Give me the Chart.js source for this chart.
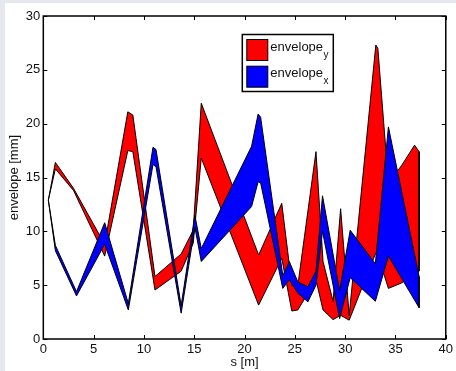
<!DOCTYPE html>
<html>
<head>
<meta charset="utf-8">
<script src="https://cdn.jsdelivr.net/npm/chart.js@4"></script>
<style>
  html, body { margin: 0; padding: 0; background: #e5e9ee; }
  #wrap { position: relative; width: 456px; height: 371px; }
  #paper { position: absolute; left: 5px; top: 3px; right: 0; bottom: 0; background: #fff; }
  #envChart { position: absolute; left: 0; top: 0; }
</style>
</head>
<body>
<div id="wrap">
  <div id="paper"></div>
  <canvas id="envChart" width="456" height="371"></canvas>
</div>
<script>
// vertical plane (red)
var sY = [0.5, 1.2, 3.0, 6.1, 8.4, 8.9, 11.1, 13.7, 14.9, 15.7, 21.4, 23.7, 24.7, 25.3, 27.1, 27.8, 28.8, 29.55, 30.4, 33.05, 33.25, 34.3, 35.6, 36.9, 37.35];
var yUpper = [12.9, 16.4, 14.0, 8.8, 21.1, 20.8, 5.8, 7.9, 10.1, 21.9, 7.8, 12.6, 5.0, 5.0, 17.4, 7.2, 3.5, 12.1, 2.2, 27.3, 27.0, 14.5, 16.1, 18.0, 17.4];
var yLower = [12.9, 15.8, 13.8, 7.7, 17.5, 17.4, 4.55, 6.3, 8.9, 16.8, 3.15, 7.5, 2.6, 2.7, 5.5, 2.7, 1.8, 2.2, 1.75, 8.0, 7.8, 4.7, 5.2, 6.0, 6.3];

// horizontal plane (blue)
var sX = [0.5, 1.2, 3.3, 6.1, 8.45, 10.9, 11.2, 13.7, 15.06, 15.7, 20.7, 21.35, 21.6, 23.8, 24.45, 25.3, 26.3, 27.1, 27.75, 29.45, 30.5, 33.0, 34.3, 37.35];
var xUpper = [12.9, 8.7, 4.4, 10.8, 3.3, 17.8, 17.6, 3.1, 11.5, 8.4, 17.9, 20.9, 20.6, 5.9, 7.2, 5.3, 4.85, 6.3, 13.3, 4.5, 10.1, 7.0, 19.7, 5.8];
var xLower = [12.9, 8.2, 4.0, 8.8, 2.7, 16.2, 16.0, 2.4, 10.4, 7.2, 12.3, 14.6, 14.5, 4.7, 5.5, 4.25, 3.45, 5.0, 10.0, 1.9, 5.7, 3.5, 7.7, 2.9];

var xTicks = [0, 5, 10, 15, 20, 25, 30, 35, 40];
var yTicks = [0, 5, 10, 15, 20, 25, 30];

var legendItems = [
    { text: "envelope", sub: "y", color: "#ff0000" },
    { text: "envelope", sub: "x", color: "#0000ff" }
];

// upper curve forward, lower curve back -> closed outline
function envelopeShape(s, upper, lower) {
    var pts = [];
    for (var i = 0; i < s.length; i++) pts.push({ x: s[i], y: upper[i] });
    for (var j = s.length - 1; j >= 0; j--) pts.push({ x: s[j], y: lower[j] });
    return pts;
}

var FONT = "'Liberation Sans', Arial, sans-serif";
Chart.defaults.font.family = FONT;
Chart.defaults.font.size = 13;
Chart.defaults.color = "#111";

var matlabAxes = {
    id: "matlabAxes",
    afterDatasetsDraw: function(chart) {
        var ctx = chart.ctx;
        var a = chart.chartArea;
        var xs = chart.scales.x, ys = chart.scales.y;
        ctx.save();
        ctx.strokeStyle = "#000";
        ctx.lineWidth = 1;
        ctx.beginPath();
        xTicks.forEach(function(t) {
            var px = Math.round(xs.getPixelForValue(t)) + 0.5;
            ctx.moveTo(px, a.bottom); ctx.lineTo(px, a.bottom - 4);
            ctx.moveTo(px, a.top); ctx.lineTo(px, a.top + 4);
        });
        yTicks.forEach(function(t) {
            var py = Math.round(ys.getPixelForValue(t)) + 0.5;
            ctx.moveTo(a.left, py); ctx.lineTo(a.left + 4, py);
            ctx.moveTo(a.right, py); ctx.lineTo(a.right - 4, py);
        });
        ctx.stroke();
        ctx.lineWidth = 1.5;
        ctx.strokeRect(a.left, a.top, a.right - a.left, a.bottom - a.top);
        ctx.restore();
    },
    afterDraw: function(chart) {
        var ctx = chart.ctx;
        var a = chart.chartArea;
        var bx = a.left + 199, by = a.top + 18.5, bw = 91, bh = 57;
        ctx.save();
        ctx.fillStyle = "#fff";
        ctx.fillRect(bx, by, bw, bh);
        ctx.strokeStyle = "#000";
        ctx.lineWidth = 1.5;
        ctx.strokeRect(bx, by, bw, bh);
        legendItems.forEach(function(item, i) {
            var sy = by + 5 + i * 26.7;
            ctx.fillStyle = item.color;
            ctx.fillRect(bx + 4.5, sy, 21, 21);
            ctx.lineWidth = 1;
            ctx.strokeRect(bx + 4.5, sy, 21, 21);
            ctx.fillStyle = "#111";
            ctx.textBaseline = "alphabetic";
            ctx.font = "13px " + FONT;
            ctx.fillText(item.text, bx + 28, sy + 11);
            var w = ctx.measureText(item.text).width;
            ctx.font = "10px " + FONT;
            ctx.fillText(item.sub, bx + 28 + w + 0.5, sy + 18);
        });
        ctx.restore();
    }
};

var chart = new Chart(document.getElementById("envChart"), {
    type: "scatter",
    data: {
        datasets: [
            {
                label: "envelope_x",
                data: envelopeShape(sX, xUpper, xLower),
                showLine: true,
                fill: "shape",
                backgroundColor: "#0000ff",
                borderColor: "#000",
                borderWidth: 1,
                pointRadius: 0,
                tension: 0
            },
            {
                label: "envelope_y",
                data: envelopeShape(sY, yUpper, yLower),
                showLine: true,
                fill: "shape",
                backgroundColor: "#ff0000",
                borderColor: "#000",
                borderWidth: 1,
                pointRadius: 0,
                tension: 0
            }
        ]
    },
    options: {
        responsive: false,
        animation: false,
        layout: { padding: { top: 16, right: 10, left: 0, bottom: 0 } },
        plugins: {
            legend: { display: false },
            tooltip: { enabled: false }
        },
        scales: {
            x: {
                type: "linear",
                min: 0,
                max: 40,
                afterBuildTicks: function(scale) {
                    scale.ticks = xTicks.map(function(v) { return { value: v }; });
                },
                afterFit: function(scale) { scale.height = 32; },
                ticks: { padding: 3, maxRotation: 0 },
                grid: { display: false, drawTicks: false },
                border: { display: false },
                title: { display: true, text: "s [m]", padding: { top: 0, bottom: 1 } }
            },
            y: {
                type: "linear",
                min: 0,
                max: 30,
                afterBuildTicks: function(scale) {
                    scale.ticks = yTicks.map(function(v) { return { value: v }; });
                },
                afterFit: function(scale) { scale.width = 43.3; },
                ticks: { padding: 3 },
                grid: { display: false, drawTicks: false },
                border: { display: false },
                title: { display: true, text: "envelope [mm]", padding: { top: 7, bottom: 0 } }
            }
        }
    },
    plugins: [matlabAxes]
});
</script>
</body>
</html>
